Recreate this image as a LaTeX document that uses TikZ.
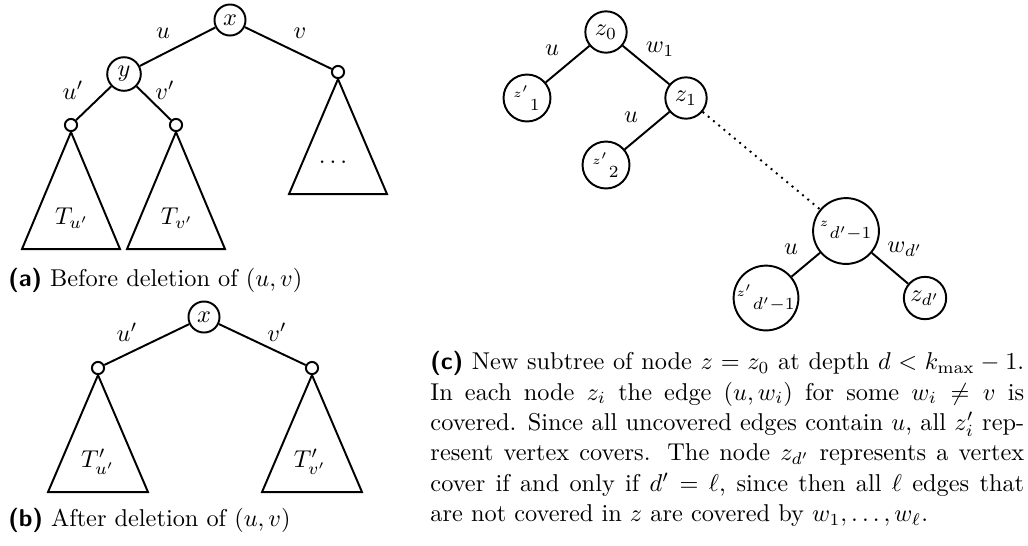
\documentclass[tikz,border=0pt]{standalone}
\usepackage{amsmath,amssymb}
\usepackage{tikz}
\usetikzlibrary{positioning}

\begin{document}
\begin{tikzpicture}[x=0.411pt, y=-0.411pt,
  vert/.style={circle, draw, thick, inner sep=2pt},
  stub/.style={circle, draw, thick, minimum size=5pt, inner sep=0pt},
  zvert/.style={circle, draw, thick, minimum size=17pt, inner sep=1.5pt},
  e/.style={draw, thick},
  subtree/.style={draw, thick, line join=miter},
  subcap/.style={anchor=west, inner sep=0pt}
]
  \useasboundingbox (0,0) rectangle (1028,545);

  % (a) before deletion
  \node[vert] (xa) at (230,20) {$x$};
  \node[vert] (ya) at (124,74) {$y$};
  \node[stub] (sa1) at (71,125) {};
  \node[stub] (sa2) at (176,125) {};
  \node[stub] (sa3) at (338,72) {};

  \draw[e] (xa) -- (ya);  \draw[e] (xa) -- (sa3);
  \draw[e] (ya) -- (sa1); \draw[e] (ya) -- (sa2);

  \draw[subtree] (sa1.south) -- ++(-49,117) -- ++(98,0) -- cycle;
  \draw[subtree] (sa2.south) -- ++(-49,117) -- ++(98,0) -- cycle;
  \draw[subtree] (sa3.south) -- ++(-49,115) -- ++(98,0) -- cycle;

  \node at (163,33) {$u$};
  \node at (300,33) {$v$};
  \node at (73,90) {$u'$};
  \node at (165,90) {$v'$};
  \node at (72,218) {$T_{u'}$};
  \node at (177,218) {$T_{v'}$};
  \node at (335,162) {$\dots$};

  \node[subcap] (capa) at (8,280) {\textsf{\textbf{(a)}} Before deletion of $(u,v)$};

  % (b) after deletion
  \node[vert] (xb) at (204,317) {$x$};
  \node[stub] (sb1) at (98,368) {};
  \node[stub] (sb2) at (312,368) {};

  \draw[e] (xb) -- (sb1); \draw[e] (xb) -- (sb2);

  \draw[subtree] (sb1.south) -- ++(-50,117) -- ++(100,0) -- cycle;
  \draw[subtree] (sb2.south) -- ++(-50,117) -- ++(100,0) -- cycle;

  \node at (127,332) {$u'$};
  \node at (277,332) {$v'$};
  \node at (98,462) {$T'_{u'}$};
  \node at (310,462) {$T'_{v'}$};

  \node[subcap] (capb) at (8,520) {\textsf{\textbf{(b)}} After deletion of $(u,v)$};

  % (c) new subtree of z
  \node[zvert] (z0) at (606,32) {$z_0$};
  \node[zvert] (zp1) at (527,98) {${}^{\scriptscriptstyle z'}{}_1$};
  \node[zvert] (z1) at (686,98) {$z_1$};
  \node[zvert] (zp2) at (606,165) {${}^{\scriptscriptstyle z'}{}_2$};
  \node[zvert] (zd1) at (846,231) {${}^{\scriptscriptstyle z}{}_{d'-1}$};
  \node[zvert, inner sep=0pt] (zpd1) at (766,298) {${}^{\scriptscriptstyle z'}{}_{d'-1}$};
  \node[zvert] (zd) at (925,298) {$z_{d'}$};

  \draw[e] (z0) -- (zp1);  \draw[e] (z0) -- (z1);
  \draw[e] (z1) -- (zp2);
  \draw[e, dotted] (z1) -- (zd1);
  \draw[e] (zd1) -- (zpd1); \draw[e] (zd1) -- (zd);

  \node at (552,50) {$u$};
  \node at (660,49) {$w_1$};
  \node at (631,117) {$u$};
  \node at (791,249) {$u$};
  \node at (905,249) {$w_{d'}$};

  \node[anchor=north west, inner sep=0pt, text width=244pt, align=justify,
        font=\fontsize{10pt}{12.5pt}\selectfont] (capc) at (430,351)
    {\hfuzz=20pt \textsf{\textbf{(c)}} New subtree of node $z=z_0$ at depth $d<k_{\max}-1$.\linebreak
     In each node $z_i$ the edge $(u,w_i)$ for some $w_i\neq v$ is\linebreak
     covered. Since all uncovered edges contain $u$, all $z'_i$ rep-\linebreak
     resent vertex covers. The node $z_{d'}$ represents a vertex\linebreak
     cover if and only if $d'=\ell$, since then all $\ell$ edges that\linebreak
     are not covered in $z$ are covered by $w_1,\dots,w_\ell$.};
\end{tikzpicture}
\end{document}
